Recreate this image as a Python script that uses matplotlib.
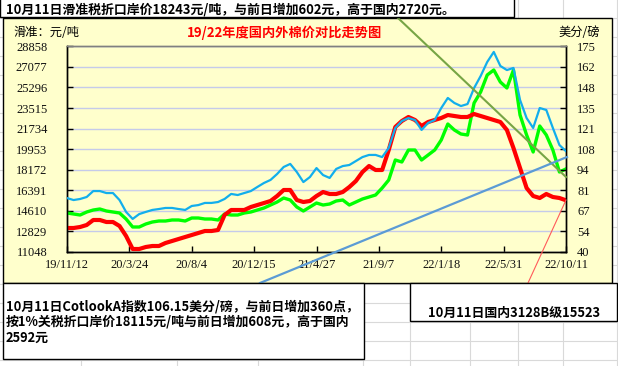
import matplotlib
matplotlib.use('Agg')
import matplotlib.pyplot as plt
import pandas as pd
from matplotlib.lines import Line2D
from matplotlib.patches import Rectangle

# ---------------- data ----------------
dates = pd.date_range('2019-11-12', periods=77, freq='14D')

domestic_3128b = [13126, 13126, 13213, 13386, 13819, 13819, 13645, 13645, 13299, 12433,
                  11308, 11308, 11481, 11567, 11567, 11827, 12000, 12174, 12347, 12520,
                  12693, 12866, 12866, 12953, 14251, 14684, 14684, 14684, 14944, 15117,
                  15290, 15464, 15896, 16416, 16416, 15550, 15377, 15464, 15896, 16243,
                  16070, 16070, 16243, 16676, 17195, 17974, 18494, 18148, 18148, 19879,
                  21871, 22390, 22736, 22477, 21957, 22303, 22477, 22650, 22909, 22823,
                  22736, 22736, 22996, 22823, 22650, 22477, 22303, 21611, 20052, 18321,
                  16589, 15896, 15723, 16070, 15810, 15723, 15523]

import_price = [14425, 14338, 14251, 14511, 14684, 14771, 14598, 14511, 14425, 13905,
                13213, 13213, 13472, 13645, 13732, 13732, 13819, 13819, 13732, 13992,
                13992, 13905, 13905, 13819, 14338, 14251, 14251, 14425, 14511, 14684,
                14858, 15117, 15377, 15723, 15550, 14944, 14598, 14944, 15290, 15117,
                15204, 15464, 15550, 15117, 15377, 15637, 15810, 15983, 16589, 17282,
                19013, 18840, 19879, 19879, 19013, 19446, 19879, 20745, 22130, 21611,
                21264, 21178, 23948, 24901, 26373, 26806, 25767, 25247, 26806, 22909,
                21178, 19706, 21957, 21178, 19879, 17974, 18243]

cotlook_a = [75.4, 74.1, 74.8, 76.1, 80.0, 80.0, 78.7, 78.7, 74.1, 66.3,
             61.7, 64.9, 66.3, 67.6, 68.2, 68.9, 68.9, 68.2, 67.6, 70.2,
             70.8, 72.2, 72.2, 72.8, 74.8, 78.1, 77.4, 78.7, 80.0, 82.7,
             85.3, 87.3, 91.2, 95.8, 97.8, 92.5, 85.9, 89.2, 95.1, 90.5,
             88.6, 94.5, 96.4, 97.1, 99.7, 102.3, 103.7, 103.7, 102.3, 108.3,
             121.4, 126.0, 127.9, 126.6, 120.1, 124.7, 126.6, 134.5, 141.1, 137.8,
             135.8, 137.1, 147.6, 155.5, 164.7, 171.3, 162.1, 159.4, 160.8, 139.8,
             127.9, 121.4, 134.5, 133.2, 121.4, 110.2, 106.15]

xtick_dates = ['2019-11-12', '2020-03-24', '2020-08-04', '2020-12-15', '2021-04-27',
               '2021-09-07', '2022-01-18', '2022-05-31', '2022-10-11']
xtick_labels = ['19/11/12', '20/3/24', '20/8/4', '20/12/15', '21/4/27',
                '21/9/7', '22/1/18', '22/5/31', '22/10/11']
left_ticks = [11048, 12829, 14610, 16391, 18172, 19953, 21734, 23515, 25296, 27077, 28858]
right_ticks = [40, 53.5, 67, 80.5, 94, 107.5, 121, 134.5, 148, 161.5, 175]
right_labels = ['40', '54', '67', '81', '94', '108', '121', '135', '148', '162', '175']

top_note = '10月11日滑准税折口岸价18243元/吨，与前日增加602元，高于国内2720元。'
title = '19/22年度国内外棉价对比走势图'
left_unit = '滑准：元/吨'
right_unit = '美分/磅'
bottom_note = ('10月11日CotlookA指数106.15美分/磅，与前日增加360点，\n'
               '按1%关税折口岸价18115元/吨与前日增加608元，高于国内\n'
               '2592元')
right_note = '10月11日国内3128B级15523'

# ---------------- layout ----------------
W, H = 618, 366
CJK = ['Noto Sans CJK SC', 'DejaVu Sans']
NUM = ['Liberation Serif', 'DejaVu Serif']
YELLOW = '#FFFFCC'

fig = plt.figure(figsize=(W / 100, H / 100), dpi=100)
fig.patch.set_facecolor('white')


def fx(x):
    return x / W


def fy(y):
    return 1 - y / H


def hline(y, x0, x1, **kw):
    fig.add_artist(Line2D([fx(x0), fx(x1)], [fy(y), fy(y)], transform=fig.transFigure, **kw))


def vline(x, y0, y1, **kw):
    fig.add_artist(Line2D([fx(x), fx(x)], [fy(y0), fy(y1)], transform=fig.transFigure, **kw))


# spreadsheet cell grid in the background
grid_kw = dict(color='#D9D9D9', lw=0.8, zorder=-5)
for y in [18, 37, 56, 75, 94, 113, 132, 151, 170, 189, 208, 227, 246, 265, 284, 303, 322, 341, 360]:
    hline(y, 0, W, **grid_kw)
for x in [81, 177, 258, 363, 410, 470, 518, 563, 617]:
    vline(x, 0, H, **grid_kw)

# chart area
fig.add_artist(Rectangle((fx(3), fy(283)), fx(612) - fx(3), fy(18) - fy(283),
                         transform=fig.transFigure, facecolor=YELLOW,
                         edgecolor='black', lw=1.0, zorder=-1))

ax = fig.add_axes([fx(67), fy(252), fx(566) - fx(67), fy(46.3) - fy(252)])
ax.set_facecolor(YELLOW)
ax2 = ax.twinx()

ax.plot(dates, import_price, color='#00FF00', lw=2.4, solid_joinstyle='round', zorder=3)
ax.plot(dates, domestic_3128b, color='#FF0000', lw=3.0, solid_joinstyle='round', zorder=4)
ax2.plot(dates, cotlook_a, color='#12AEEC', lw=1.6, solid_joinstyle='round', zorder=3)

ax.set_xlim(pd.Timestamp(xtick_dates[0]), pd.Timestamp(xtick_dates[-1]))
ax.set_ylim(left_ticks[0], left_ticks[-1])
ax2.set_ylim(right_ticks[0], right_ticks[-1])

ax.set_xticks(pd.to_datetime(xtick_dates))
ax.set_xticklabels(xtick_labels)
ax.set_yticks(left_ticks)
ax.set_yticklabels([str(v) for v in left_ticks])
ax2.set_yticks(right_ticks)
ax2.set_yticklabels(right_labels)

ax.grid(axis='y', color='#C5CBEA', lw=1.0)
ax.set_axisbelow(True)

for a in (ax, ax2):
    for s in a.spines.values():
        s.set_color('black')
        s.set_linewidth(1.0)
    a.spines['top'].set_color('#808080')

ax.tick_params(axis='x', direction='in', length=4, width=1, pad=5, labelsize=9)
ax.tick_params(axis='y', direction='in', length=4, width=1, pad=14, labelsize=9)
ax2.tick_params(axis='y', direction='in', length=4, width=1, pad=8, labelsize=9)
for lab in ax.get_xticklabels() + ax.get_yticklabels() + ax2.get_yticklabels():
    lab.set_family(NUM)
    lab.set_color('#111111')

# chart texts
fig.text(fx(285), fy(33), title, family=CJK, fontsize=9.5, fontweight='bold',
         color='#FF0000', ha='center', va='center')
fig.text(fx(13), fy(33), left_unit, family=CJK, fontsize=8.8, color='black',
         ha='left', va='center')
fig.text(fx(600), fy(33), right_unit, family=CJK, fontsize=8.8, color='black',
         ha='right', va='center')

# decorative drawn lines
fig.add_artist(Line2D([fx(398), fx(566)], [fy(18), fy(177)], transform=fig.transFigure,
                      color='#77A545', lw=1.5, zorder=5))
fig.add_artist(Line2D([fx(260), fx(567)], [fy(283), fy(157)], transform=fig.transFigure,
                      color='#5B9BD5', lw=1.6, zorder=5))
fig.add_artist(Line2D([fx(528), fx(566)], [fy(283), fy(200)], transform=fig.transFigure,
                      color='#FF5A5A', lw=0.8, zorder=5))

# text boxes
fig.add_artist(Rectangle((fx(0), fy(17)), fx(514), fy(-2) - fy(17), transform=fig.transFigure,
                         facecolor='white', edgecolor='black', lw=1.0, zorder=6))
fig.text(fx(6), fy(9), top_note, family=CJK, fontsize=9.3, fontweight='bold',
         ha='left', va='center', zorder=7)

fig.add_artist(Rectangle((fx(3), fy(359)), fx(364) - fx(3), fy(283) - fy(359),
                         transform=fig.transFigure, facecolor='white', edgecolor='black',
                         lw=1.0, zorder=6))
fig.text(fx(6), fy(322), bottom_note, family=CJK, fontsize=9.3, fontweight='bold',
         ha='left', va='center', linespacing=1.12, zorder=7)

fig.add_artist(Rectangle((fx(410), fy(321)), fx(617) - fx(410), fy(283) - fy(321),
                         transform=fig.transFigure, facecolor='white', edgecolor='black',
                         lw=1.0, zorder=6))
fig.text(fx(514), fy(313), right_note, family=CJK, fontsize=9.3, fontweight='bold',
         ha='center', va='center', zorder=7)

fig.savefig('out.png', dpi=100)
